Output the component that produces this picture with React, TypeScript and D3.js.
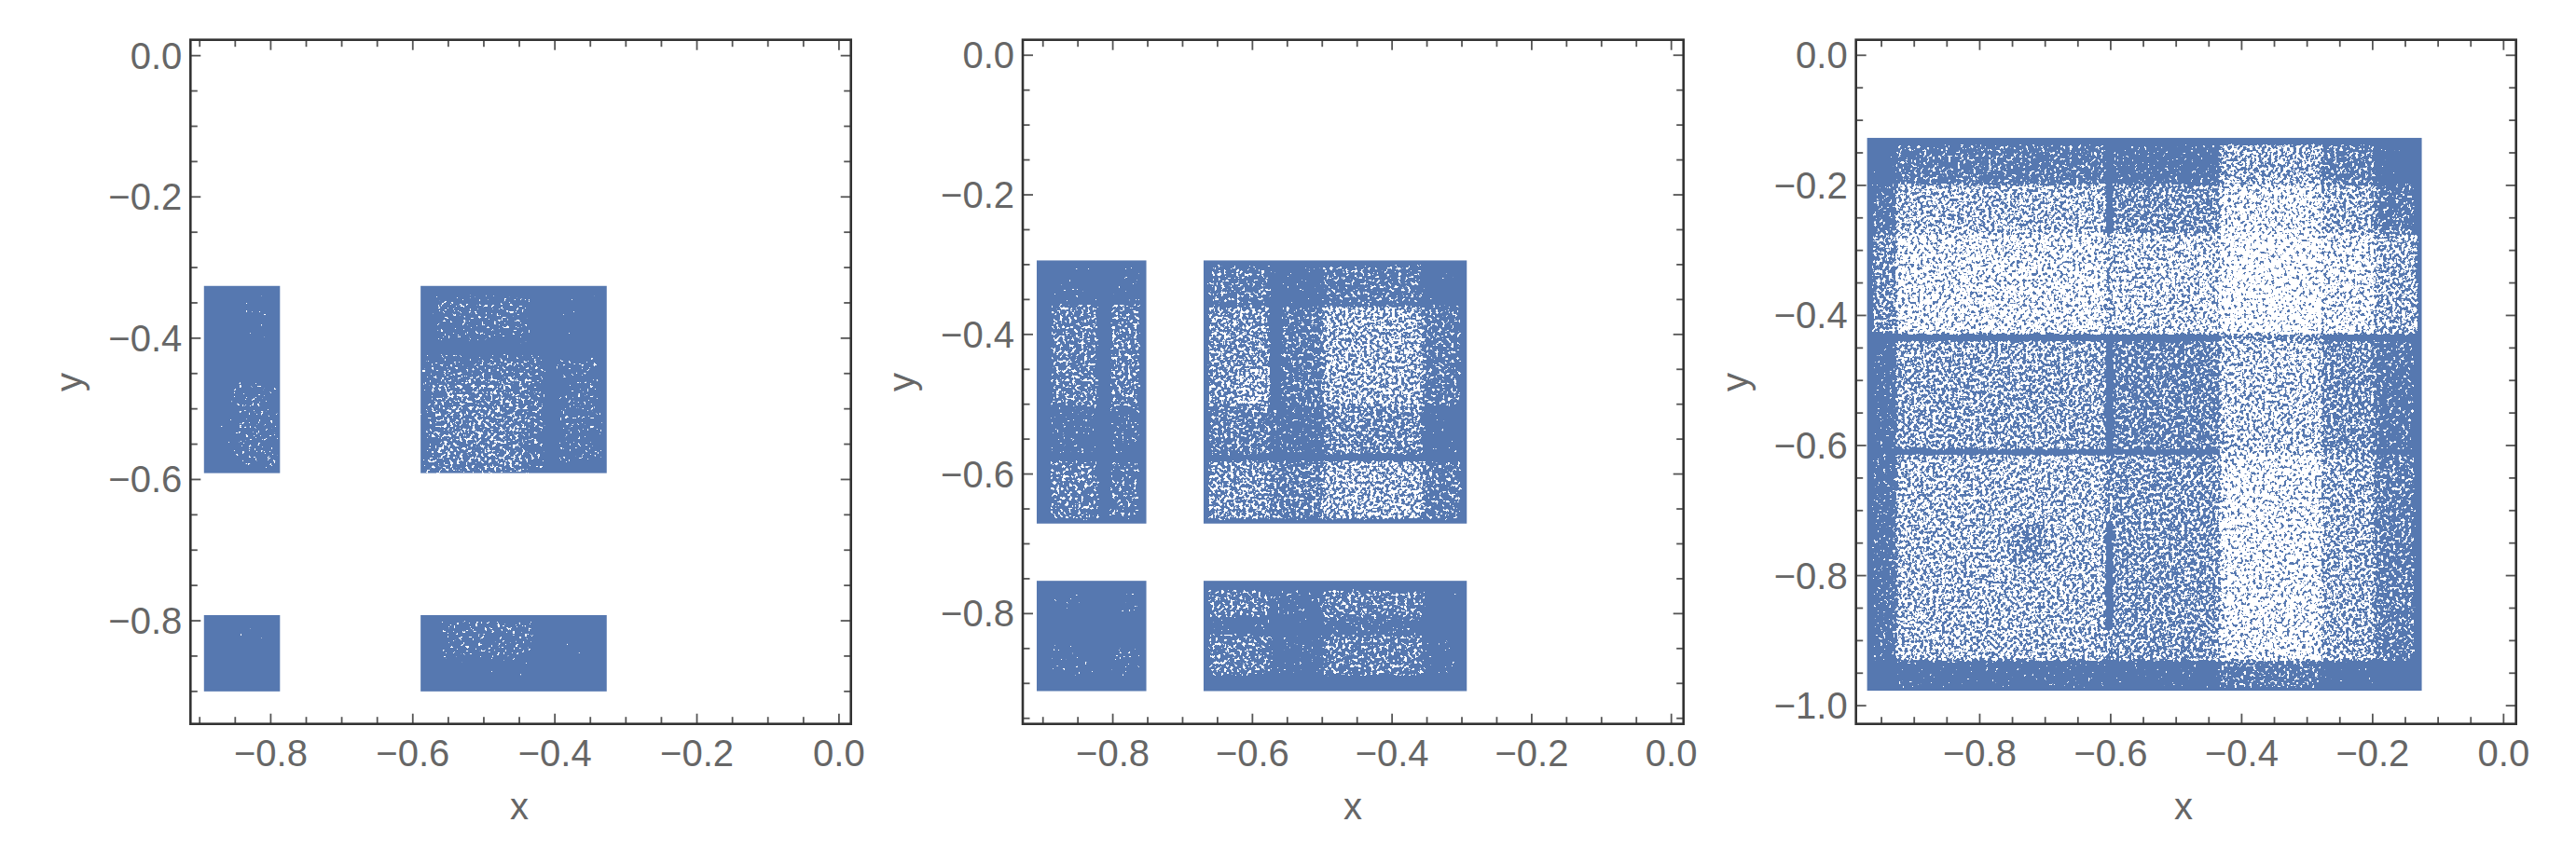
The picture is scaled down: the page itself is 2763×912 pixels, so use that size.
import React from "react";
import * as d3 from "d3";

const BLUE = "#5678b0";
const INK = "#666666";
const FONT = "'Liberation Sans', Arial, sans-serif";

// tick labels
const xMajor1 = [-0.8, -0.6, -0.4, -0.2, 0];
const yMajor1 = [0, -0.2, -0.4, -0.6, -0.8];
const yMajor3 = [0, -0.2, -0.4, -0.6, -0.8, -1];

// axis windows
const xDomains = [[-0.913, 0.0168], [-0.929, 0.0174], [-0.989, 0.019]];
const yDomains = [[0.0224, -0.946], [0.0221, -0.958], [0.0238, -1.028]];

// solid blue blocks: [from, to] along each axis
const xBands1 = [[-0.894, -0.787], [-0.589, -0.327]];
const yBands1 = [[-0.326, -0.591], [-0.792, -0.9]];
const xBands2 = [[-0.909, -0.752], [-0.67, -0.293]];
const yBands2 = [[-0.294, -0.671], [-0.753, -0.911]];
const xBands3 = [[-0.972, -0.125]];
const yBands3 = [[-0.127, -0.977]];

// The white specks are too many to read one by one, so they are a noise texture
// (an SVG filter). Only the zones and their approximate density are read off the picture:
// [x0, x1, y0, y1, share of the zone that is white]. Later zones paint over earlier ones.
type Zone = number[];
const zones1: Zone[] = [
  [-0.575, -0.43, -0.335, -0.41, 0.13],
  [-0.59, -0.41, -0.42, -0.6, 0.16],
  [-0.565, -0.445, -0.45, -0.585, 0.28],
  [-0.4, -0.33, -0.425, -0.58, 0.11],
  [-0.395, -0.33, -0.33, -0.41, 0.03],
  [-0.855, -0.785, -0.46, -0.59, 0.11],
  [-0.855, -0.8, -0.33, -0.415, 0.035],
  [-0.89, -0.855, -0.44, -0.57, 0.02],
  [-0.855, -0.79, -0.805, -0.845, 0.035],
  [-0.565, -0.425, -0.795, -0.855, 0.13],
  [-0.575, -0.425, -0.855, -0.885, 0.03],
  [-0.395, -0.355, -0.805, -0.85, 0.035],
];

const zones2: Zone[] = [
  [-0.664, -0.574, -0.3, -0.356, 0.22],
  [-0.574, -0.499, -0.3, -0.356, 0.05],
  [-0.499, -0.355, -0.3, -0.356, 0.2],
  [-0.355, -0.3, -0.3, -0.356, 0.03],
  [-0.664, -0.574, -0.358, -0.504, 0.4],
  [-0.62, -0.574, -0.45, -0.504, 0.55],
  [-0.56, -0.499, -0.358, -0.504, 0.2],
  [-0.499, -0.355, -0.358, -0.504, 0.55],
  [-0.355, -0.3, -0.358, -0.504, 0.2],
  [-0.664, -0.574, -0.504, -0.573, 0.26],
  [-0.574, -0.499, -0.504, -0.573, 0.1],
  [-0.499, -0.355, -0.504, -0.573, 0.36],
  [-0.355, -0.3, -0.504, -0.573, 0.04],
  [-0.664, -0.574, -0.58, -0.666, 0.42],
  [-0.574, -0.499, -0.58, -0.666, 0.28],
  [-0.499, -0.355, -0.58, -0.666, 0.56],
  [-0.355, -0.3, -0.58, -0.666, 0.2],
  [-0.89, -0.82, -0.3, -0.356, 0.04],
  [-0.805, -0.76, -0.3, -0.356, 0.05],
  [-0.89, -0.82, -0.356, -0.504, 0.26],
  [-0.805, -0.76, -0.356, -0.504, 0.28],
  [-0.89, -0.82, -0.504, -0.573, 0.08],
  [-0.805, -0.76, -0.504, -0.573, 0.09],
  [-0.89, -0.82, -0.58, -0.666, 0.26],
  [-0.805, -0.76, -0.58, -0.666, 0.16],
  [-0.664, -0.574, -0.765, -0.805, 0.26],
  [-0.574, -0.499, -0.765, -0.805, 0.08],
  [-0.499, -0.355, -0.765, -0.805, 0.28],
  [-0.355, -0.3, -0.765, -0.805, 0.03],
  [-0.664, -0.574, -0.805, -0.83, 0.06],
  [-0.574, -0.499, -0.805, -0.83, 0.03],
  [-0.499, -0.355, -0.805, -0.83, 0.08],
  [-0.664, -0.574, -0.83, -0.89, 0.26],
  [-0.574, -0.499, -0.83, -0.89, 0.05],
  [-0.499, -0.355, -0.83, -0.89, 0.26],
  [-0.355, -0.3, -0.83, -0.89, 0.05],
  [-0.89, -0.82, -0.77, -0.8, 0.05],
  [-0.89, -0.82, -0.84, -0.89, 0.05],
  [-0.805, -0.76, -0.77, -0.8, 0.05],
  [-0.805, -0.76, -0.84, -0.89, 0.07],
];

const zones3: Zone[] = [
  [-0.965, -0.928, -0.136, -0.198, 0.03],
  [-0.928, -0.606, -0.136, -0.198, 0.2],
  [-0.598, -0.434, -0.136, -0.198, 0.1],
  [-0.434, -0.276, -0.136, -0.198, 0.55],
  [-0.276, -0.197, -0.136, -0.198, 0.25],
  [-0.197, -0.135, -0.136, -0.198, 0.03],
  [-0.965, -0.928, -0.198, -0.273, 0.15],
  [-0.928, -0.606, -0.198, -0.273, 0.6],
  [-0.598, -0.434, -0.198, -0.273, 0.4],
  [-0.434, -0.276, -0.198, -0.273, 0.8],
  [-0.276, -0.197, -0.198, -0.273, 0.55],
  [-0.197, -0.135, -0.198, -0.273, 0.22],
  [-0.965, -0.928, -0.273, -0.43, 0.4],
  [-0.928, -0.606, -0.273, -0.43, 0.8],
  [-0.598, -0.434, -0.273, -0.43, 0.7],
  [-0.434, -0.276, -0.273, -0.43, 0.88],
  [-0.276, -0.197, -0.273, -0.43, 0.8],
  [-0.197, -0.13, -0.273, -0.43, 0.55],
  [-0.965, -0.928, -0.438, -0.607, 0.08],
  [-0.928, -0.606, -0.438, -0.607, 0.5],
  [-0.598, -0.434, -0.438, -0.607, 0.32],
  [-0.434, -0.276, -0.438, -0.607, 0.68],
  [-0.276, -0.197, -0.438, -0.607, 0.38],
  [-0.197, -0.135, -0.438, -0.607, 0.15],
  [-0.965, -0.928, -0.613, -0.932, 0.12],
  [-0.928, -0.606, -0.613, -0.932, 0.6],
  [-0.75, -0.7, -0.72, -0.78, 0.38],
  [-0.598, -0.434, -0.613, -0.932, 0.45],
  [-0.434, -0.276, -0.613, -0.932, 0.82],
  [-0.276, -0.197, -0.613, -0.932, 0.55],
  [-0.197, -0.135, -0.613, -0.932, 0.25],
  [-0.965, -0.928, -0.932, -0.974, 0.02],
  [-0.928, -0.606, -0.932, -0.974, 0.06],
  [-0.598, -0.434, -0.932, -0.974, 0.05],
  [-0.434, -0.276, -0.932, -0.974, 0.2],
  [-0.276, -0.197, -0.932, -0.974, 0.04],
  [-0.197, -0.135, -0.932, -0.974, 0.015],
  // the dark channels only close off part of each row and column
  [-0.608, -0.597, -0.273, -0.43, 0.55],
  [-0.608, -0.597, -0.613, -0.72, 0.4],
  [-0.608, -0.597, -0.88, -0.932, 0.4],
  [-0.434, -0.276, -0.605, -0.615, 0.72],
  [-0.276, -0.197, -0.605, -0.615, 0.4],
  [-0.434, -0.276, -0.429, -0.439, 0.35],
];

const panels = [
  { left: 204.3, right: 912.7, x: xDomains[0], y: yDomains[0], xb: xBands1, yb: yBands1, zones: zones1, yTicks: yMajor1, xLabel: 557, blur: 4.5 },
  { left: 1097, right: 1805.7, x: xDomains[1], y: yDomains[1], xb: xBands2, yb: yBands2, zones: zones2, yTicks: yMajor1, xLabel: 1451, blur: 1.5 },
  { left: 1990.7, right: 2698.7, x: xDomains[2], y: yDomains[2], xb: xBands3, yb: yBands3, zones: zones3, yTicks: yMajor3, xLabel: 2342, blur: 1.2 },
];

const TOP = 42.7;
const BOTTOM = 776.7;
const fmt = (v: number) => (v === 0 ? "0.0" : `\u2212${Math.abs(v).toFixed(1)}`);

// grey level of a zone: noise + level - 1 > 0 turns a pixel white
function levelFor(d: number) {
  const slope = d < 0.5 ? 0.085 : 0.07;
  const cut = 0.5 + slope * Math.log((1 - d) / d);
  const g = Math.round((1 - cut) * 255);
  return `rgb(${g},${g},${g})`;
}

function Panel({ p, index }: { p: (typeof panels)[number]; index: number }) {
  const sx = d3.scaleLinear().domain(p.x).range([p.left, p.right]);
  const sy = d3.scaleLinear().domain(p.y).range([TOP, BOTTOM]);
  const xMinor = d3.range(-20, 1).map((i) => i * 0.05).filter((v) => v >= p.x[0] && v <= p.x[1]);
  const yMinor = d3.range(-21, 1).map((i) => i * 0.05).filter((v) => v <= p.y[0] && v >= p.y[1]);
  const isMajor = (v: number) => Math.abs(v / 0.2 - Math.round(v / 0.2)) < 1e-6;
  const bx = d3.extent(p.xb.flat()) as [number, number];
  const by = d3.extent(p.yb.flat()) as [number, number];

  return (
    <g>
      <clipPath id={`blocks-${index}`}>
        {p.xb.map((b) =>
          p.yb.map((c) => (
            <rect key={`${b[0]}${c[0]}`} x={sx(b[0])} y={sy(c[0])} width={sx(b[1]) - sx(b[0])} height={sy(c[1]) - sy(c[0])} />
          ))
        )}
      </clipPath>
      {p.xb.map((b) =>
        p.yb.map((c) => (
          <rect key={`${b[0]}${c[0]}`} x={sx(b[0])} y={sy(c[0])} width={sx(b[1]) - sx(b[0])} height={sy(c[1]) - sy(c[0])} fill={BLUE} />
        ))
      )}
      <g clipPath={`url(#blocks-${index})`}>
        <g filter={`url(#speck-${index})`}>
          <rect x={sx(bx[0])} y={sy(by[1])} width={sx(bx[1]) - sx(bx[0])} height={sy(by[0]) - sy(by[1])} fill="#000" />
          {p.zones.map((z, i) => (
            <rect key={i} x={sx(z[0])} y={sy(z[2])} width={sx(z[1]) - sx(z[0])} height={sy(z[3]) - sy(z[2])} fill={levelFor(z[4])} />
          ))}
        </g>
      </g>

      {xMinor.map((v) => {
        const len = isMajor(v) ? 11 : 7.5;
        return (
          <g key={v} stroke="#555" strokeWidth={1.8}>
            <line x1={sx(v)} x2={sx(v)} y1={BOTTOM} y2={BOTTOM - len} />
            <line x1={sx(v)} x2={sx(v)} y1={TOP} y2={TOP + len} />
          </g>
        );
      })}
      {yMinor.map((v) => {
        const len = isMajor(v) ? 11 : 7.5;
        return (
          <g key={v} stroke="#555" strokeWidth={1.8}>
            <line x1={p.left} x2={p.left + len} y1={sy(v)} y2={sy(v)} />
            <line x1={p.right} x2={p.right - len} y1={sy(v)} y2={sy(v)} />
          </g>
        );
      })}
      <rect x={p.left} y={TOP} width={p.right - p.left} height={BOTTOM - TOP} fill="none" stroke="#333" strokeWidth={2.6} />

      <g fontFamily={FONT} fontSize={40} fill={INK}>
        {xMajor1.map((v) => (
          <text key={v} x={sx(v)} y={822} textAnchor="middle">
            {fmt(v)}
          </text>
        ))}
        {p.yTicks.map((v) => (
          <text key={v} x={p.left - 9} y={sy(v) + 14} textAnchor="end">
            {fmt(v)}
          </text>
        ))}
        <text x={p.xLabel} y={879} textAnchor="middle">x</text>
        <text transform={`translate(${p.left - 116},410) rotate(-90)`} textAnchor="middle">y</text>
      </g>
    </g>
  );
}

export default function App() {
  return (
    <svg width={2763} height={912} style={{ position: "absolute", left: 0, top: 0, background: "#fff" }}>
      <defs>
        {panels.map((p, i) => (
          <filter key={i} id={`speck-${i}`} x="0" y="0" width="1" height="1" colorInterpolationFilters="sRGB">
            <feGaussianBlur in="SourceGraphic" stdDeviation={p.blur} result="field" />
            <feTurbulence type="fractalNoise" baseFrequency={0.3} numOctaves={2} seed={7 + i} />
            <feColorMatrix type="matrix" values="1 0 0 0 0  0 1 0 0 0  0 0 1 0 0  0 0 0 0 1" result="noise" />
            <feComposite in="noise" in2="field" operator="arithmetic" k1={0} k2={1} k3={1} k4={-1} />
            <feColorMatrix type="matrix" values="0 0 0 0 1  0 0 0 0 1  0 0 0 0 1  40 0 0 0 0" />
          </filter>
        ))}
      </defs>
      {panels.map((p, i) => (
        <Panel key={p.left} p={p} index={i} />
      ))}
    </svg>
  );
}
